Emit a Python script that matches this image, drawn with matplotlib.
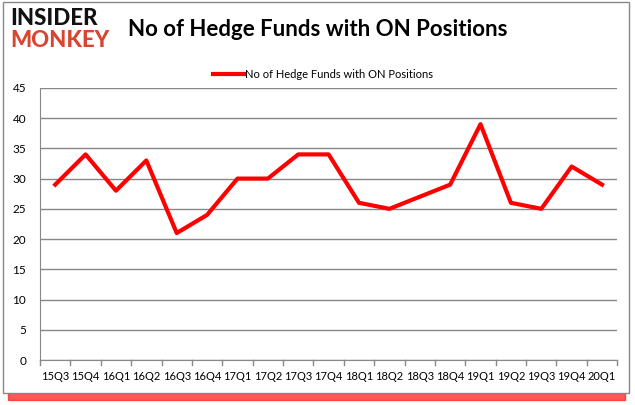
import matplotlib.pyplot as plt
import matplotlib.patches as patches

quarters = ["15Q3", "15Q4", "16Q1", "16Q2", "16Q3", "16Q4", "17Q1", "17Q2", "17Q3", "17Q4",
            "18Q1", "18Q2", "18Q3", "18Q4", "19Q1", "19Q2", "19Q3", "19Q4", "20Q1"]
funds = [29, 34, 28, 33, 21, 24, 30, 30, 34, 34, 26, 25, 27, 29, 39, 26, 25, 32, 29]

plt.rcParams['font.family'] = ['Lato', 'DejaVu Sans']

fig = plt.figure(figsize=(6.35, 4.05), dpi=100)

# frame + red shadow at the bottom
fig.patches.append(patches.Rectangle((0.012, 0.012), 0.972, 0.018, transform=fig.transFigure,
                                     color='#ff2020', alpha=0.75, zorder=0))
fig.patches.append(patches.Rectangle((0.005, 0.03), 0.985, 0.965, transform=fig.transFigure,
                                     facecolor='white', edgecolor='#888888', lw=1, zorder=1))

ax = fig.add_axes([0.063, 0.111, 0.909, 0.672])
ax.set_zorder(2)
x = range(len(quarters))
ax.plot(x, funds, color='#ff0000', lw=3, label='No of Hedge Funds with ON Positions')
ax.set_xlim(-0.5, len(quarters) - 0.5)
ax.set_ylim(0, 45)
ax.set_yticks(range(0, 50, 5))
ax.set_xticks(x)
ax.set_xticklabels(quarters, fontsize=8)
ax.tick_params(axis='y', labelsize=8.5, length=0, pad=10)
ax.tick_params(axis='x', length=0, pad=8)
ax.grid(axis='y', color='#888888', lw=1)
ax.set_axisbelow(True)
for s in ['top', 'right']:
    ax.spines[s].set_visible(False)
ax.spines['left'].set_color('#888888')
ax.spines['bottom'].set_color('#888888')
# category boundary ticks
for b in range(len(quarters) + 1):
    ax.plot([b - 0.5, b - 0.5], [0, -0.9], color='#888888', lw=1, clip_on=False)

ax.legend(loc='center', bbox_to_anchor=(0.49, 1.048), frameon=False, fontsize=8,
          handlelength=2.8, handletextpad=0.1)

fig.text(0.50, 0.926, 'No of Hedge Funds with ON Positions', fontsize=16, fontweight='bold',
         ha='center', va='center', zorder=3)
fig.text(0.016, 0.955, 'INSIDER', fontsize=16, fontweight='black', color='#111111',
         ha='left', va='center', zorder=3)
fig.text(0.016, 0.900, 'MONKEY', fontsize=16, fontweight='black', color='#d84530',
         ha='left', va='center', zorder=3)

fig.savefig('out.png', dpi=100)
